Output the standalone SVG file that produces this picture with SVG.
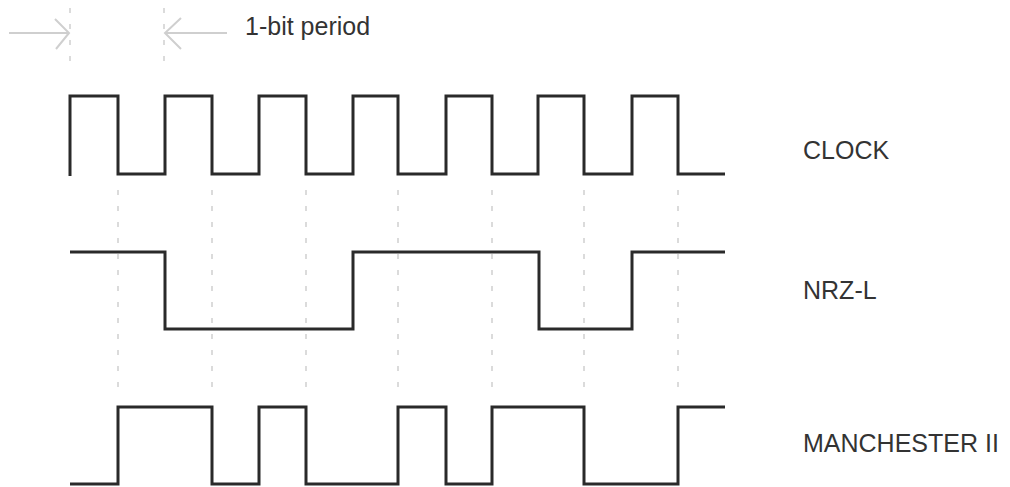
<svg xmlns="http://www.w3.org/2000/svg" width="1010" height="487" viewBox="0 0 1010 487">
  <style>
    .wave { fill: none; stroke: #2a2a2a; stroke-width: 3; stroke-linejoin: miter; stroke-linecap: butt; }
    .guide { fill: none; stroke: #cfcfcf; stroke-width: 1.5; stroke-dasharray: 5 11; }
    .dim { fill: none; stroke: #cfcfcf; stroke-width: 2; }
    .label { font-family: "Liberation Sans", Arial, sans-serif; font-size: 25px; fill: #333; }
  </style>
  <rect width="1010" height="487" fill="#ffffff"/>

  <g id="guides">
    <line class="guide" x1="70" y1="8" x2="70" y2="66"/>
    <line class="guide" x1="164" y1="8" x2="164" y2="66"/>
    <line class="guide" x1="118" y1="190" x2="118" y2="396"/>
    <line class="guide" x1="212" y1="190" x2="212" y2="396"/>
    <line class="guide" x1="306" y1="190" x2="306" y2="396"/>
    <line class="guide" x1="398" y1="190" x2="398" y2="396"/>
    <line class="guide" x1="492" y1="190" x2="492" y2="396"/>
    <line class="guide" x1="584" y1="190" x2="584" y2="396"/>
    <line class="guide" x1="678" y1="190" x2="678" y2="396"/>
  </g>

  <g id="connectors">
    <line class="dim" x1="9" y1="33" x2="69" y2="33"/>
    <polyline class="dim" points="55,19 69,33 56,49"/>
    <line class="dim" x1="165" y1="33" x2="227" y2="33"/>
    <polyline class="dim" points="181,18 165,33 181,49"/>
  </g>

  <g id="period-label">
    <text class="label" x="245" y="35">1-bit period</text>
  </g>

  <g id="clock">
    <path class="wave" d="M70,176 V96 H118 V174 H165 V96 H212 V174 H259 V96 H306 V174 H353 V96 H398 V174 H446 V96 H492 V174 H538 V96 H584 V174 H632 V96 H678 V174 H725"/>
    <text class="label" x="803" y="159">CLOCK</text>
  </g>

  <g id="nrz-l">
    <path class="wave" d="M70,252 H165 V329 H353 V252 H539 V329 H632 V252 H725"/>
    <text class="label" x="803" y="299">NRZ-L</text>
  </g>

  <g id="manchester-ii">
    <path class="wave" d="M70,484 H118 V407 H212 V484 H259 V407 H306 V484 H398 V407 H446 V484 H492 V407 H584 V484 H678 V407 H725"/>
    <text class="label" x="803" y="452">MANCHESTER II</text>
  </g>
</svg>
